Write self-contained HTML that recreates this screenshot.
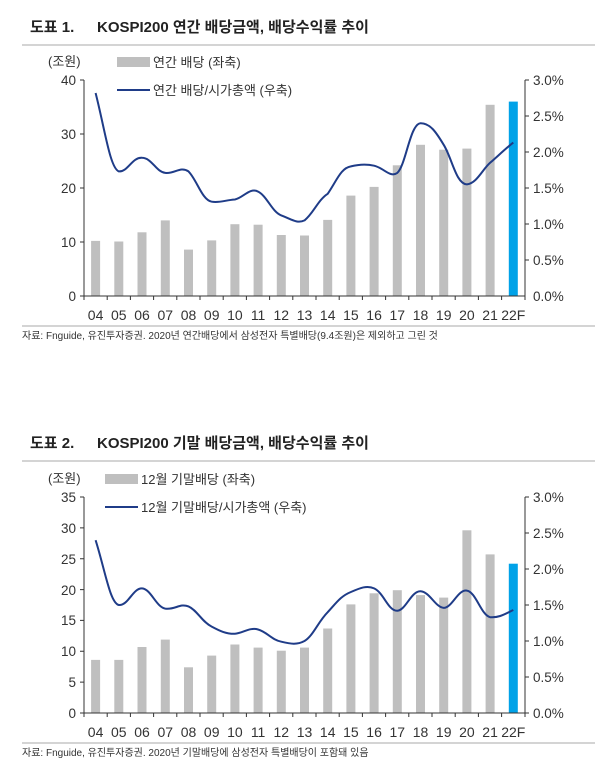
<!DOCTYPE html>
<html><head><meta charset="utf-8"><style>
body{margin:0;background:#fff;}
svg{display:block;font-family:"Liberation Sans","Noto Sans CJK KR",sans-serif;}
</style></head><body>
<svg width="610" height="765" viewBox="0 0 610 765">
<g font-size="14" fill="#222">
<text x="30" y="32" font-weight="bold" font-size="15">도표 1.</text>
<text x="97" y="32" font-weight="bold" font-size="15">KOSPI200 연간 배당금액, 배당수익률 추이</text>
</g>
<line x1="22" y1="45" x2="595" y2="45" stroke="#aaa"/>
<g font-size="13" fill="#333">
<text x="48" y="66">(조원)</text>
<rect x="117" y="57" width="33" height="10" fill="#bfbfbf"/><text x="153" y="67">연간 배당 (좌축)</text>
<line x1="117" y1="90" x2="150" y2="90" stroke="#1f3c88" stroke-width="2"/><text x="153" y="95">연간 배당/시가총액 (우축)</text>
</g>
<g fill="#bfbfbf">
<rect x="91.1" y="240.9" width="9" height="55.1"/><rect x="114.3" y="241.5" width="9" height="54.5"/><rect x="137.5" y="232.3" width="9" height="63.7"/><rect x="160.8" y="220.4" width="9" height="75.6"/><rect x="184" y="249.6" width="9" height="46.4"/><rect x="207.2" y="240.4" width="9" height="55.6"/><rect x="230.4" y="224.2" width="9" height="71.8"/><rect x="253.6" y="224.7" width="9" height="71.3"/><rect x="276.8" y="235" width="9" height="61"/><rect x="300" y="235.5" width="9" height="60.5"/><rect x="323.2" y="219.9" width="9" height="76.1"/><rect x="346.4" y="195.6" width="9" height="100.4"/><rect x="369.6" y="186.9" width="9" height="109.1"/><rect x="392.8" y="165.3" width="9" height="130.7"/><rect x="416" y="144.8" width="9" height="151.2"/><rect x="439.2" y="149.7" width="9" height="146.3"/><rect x="462.4" y="148.6" width="9" height="147.4"/><rect x="485.6" y="104.8" width="9" height="191.2"/>
</g>
<rect x="508.8" y="101.6" width="9" height="194.4" fill="#00a2e8"/>
<path d="M95.6,93 C105,130 110,168 118.8,171.4 C128,172 132,157 142,157.8 C152,158 156,172 165.3,172.9 C175,174 180,166 188.5,171.4 C197,180 202,200 211.7,201.7 C220,203 226,200 234.9,199.5 C243,198 250,187 258.1,191.6 C267,196 272,212 281.3,215.4 C291,219 297,224 304.5,220.4 C313,214 318,200 327.7,193.8 C337,180 341,168 350.9,166.4 C360,164 367,164 374.1,165.7 C384,168 390,178 397.3,172.9 C406,165 410,124 420.5,123.2 C430,123 436,132 443.7,144.8 C452,158 456,184 466.9,184.4 C477,183 482,170 490.1,162.8 C498,156 505,149 513.3,142.6" fill="none" stroke="#1f3c88" stroke-width="2"/>
<g stroke="#333" stroke-width="1">
<line x1="84" y1="80" x2="84" y2="296"/><line x1="525" y1="80" x2="525" y2="296"/><line x1="84" y1="296" x2="525" y2="296"/>
<path d="M80,80H84M80,134H84M80,188H84M80,242H84M80,296H84M525,80H529M525,116H529M525,152H529M525,188H529M525,224H529M525,260H529"/>
<path d="M84,296v4M107.2,296v4M130.4,296v4M153.6,296v4M176.8,296v4M200,296v4M223.2,296v4M246.4,296v4M269.6,296v4M292.8,296v4M316,296v4M339.2,296v4M362.4,296v4M385.6,296v4M408.8,296v4M432,296v4M455.2,296v4M478.4,296v4M501.6,296v4M525,296v4"/>
</g>
<g font-size="13.5" fill="#333" text-anchor="end">
<text x="76" y="85">40</text><text x="76" y="139">30</text><text x="76" y="193">20</text><text x="76" y="247">10</text><text x="76" y="301">0</text>
</g>
<g font-size="13.5" fill="#333">
<text x="533" y="85">3.0%</text><text x="533" y="121">2.5%</text><text x="533" y="157">2.0%</text><text x="533" y="193">1.5%</text><text x="533" y="229">1.0%</text><text x="533" y="265">0.5%</text><text x="533" y="301">0.0%</text>
</g>
<g font-size="14" fill="#333" text-anchor="middle">
<text x="95.6" y="320">04</text><text x="118.8" y="320">05</text><text x="142" y="320">06</text><text x="165.3" y="320">07</text><text x="188.5" y="320">08</text><text x="211.7" y="320">09</text><text x="234.9" y="320">10</text><text x="258.1" y="320">11</text><text x="281.3" y="320">12</text><text x="304.5" y="320">13</text><text x="327.7" y="320">14</text><text x="350.9" y="320">15</text><text x="374.1" y="320">16</text><text x="397.3" y="320">17</text><text x="420.5" y="320">18</text><text x="443.7" y="320">19</text><text x="466.9" y="320">20</text><text x="490.1" y="320">21</text><text x="513.3" y="320">22F</text>
</g>
<line x1="22" y1="326" x2="595" y2="326" stroke="#aaa"/>
<text x="22" y="339" font-size="10" fill="#333">자료: Fnguide, 유진투자증권. 2020년 연간배당에서 삼성전자 특별배당(9.4조원)은 제외하고 그린 것</text>

<g font-size="14" fill="#222">
<text x="30" y="448" font-weight="bold" font-size="15">도표 2.</text>
<text x="97" y="448" font-weight="bold" font-size="15">KOSPI200 기말 배당금액, 배당수익률 추이</text>
</g>
<line x1="22" y1="461" x2="595" y2="461" stroke="#aaa"/>
<g font-size="13" fill="#333">
<text x="48" y="483">(조원)</text>
<rect x="105" y="474" width="33" height="10" fill="#bfbfbf"/><text x="141" y="484">12월 기말배당 (좌축)</text>
<line x1="105" y1="507" x2="138" y2="507" stroke="#1f3c88" stroke-width="2"/><text x="141" y="512">12월 기말배당/시가총액 (우축)</text>
</g>
<g fill="#bfbfbf">
<rect x="91.1" y="659.9" width="9" height="53.1"/><rect x="114.3" y="659.9" width="9" height="53.1"/><rect x="137.5" y="647" width="9" height="66"/><rect x="160.8" y="639.6" width="9" height="73.4"/><rect x="184" y="667.3" width="9" height="45.7"/><rect x="207.2" y="655.6" width="9" height="57.4"/><rect x="230.4" y="644.5" width="9" height="68.5"/><rect x="253.6" y="647.6" width="9" height="65.4"/><rect x="276.8" y="650.7" width="9" height="62.3"/><rect x="300" y="647.6" width="9" height="65.4"/><rect x="323.2" y="628.5" width="9" height="84.5"/><rect x="346.4" y="604.4" width="9" height="108.6"/><rect x="369.6" y="593.3" width="9" height="119.7"/><rect x="392.8" y="590.2" width="9" height="122.8"/><rect x="416" y="595.1" width="9" height="117.9"/><rect x="439.2" y="597.6" width="9" height="115.4"/><rect x="462.4" y="530.3" width="9" height="182.7"/><rect x="485.6" y="554.4" width="9" height="158.6"/>
</g>
<rect x="508.8" y="563.7" width="9" height="149.3" fill="#00a2e8"/>
<path d="M95.6,540.2 C105,570 110,603 118.8,605 C128,606 133,588 142,588.4 C151,589 156,607 165.3,608.6 C175,610 180,603 188.5,606.4 C197,610 202,622 211.7,626.6 C220,631 226,634 234.9,633.8 C243,633 250,627 258.1,629.5 C267,632 272,640 281.3,641.7 C291,644 297,645 304.5,641 C313,636 318,622 327.7,612.2 C337,602 341,596 350.9,592 C360,588 367,585 374.1,588.4 C384,593 388,611 397.3,610.8 C406,610 411,591 420.5,591.3 C430,592 435,607 443.7,607.9 C452,608 458,589 466.9,590.6 C476,592 481,615 490.1,617.2 C499,618 505,614 513.3,610" fill="none" stroke="#1f3c88" stroke-width="2"/>
<g stroke="#333" stroke-width="1">
<line x1="84" y1="497" x2="84" y2="713"/><line x1="525" y1="497" x2="525" y2="713"/><line x1="84" y1="713" x2="525" y2="713"/>
<path d="M80,497H84M80,527.9H84M80,558.7H84M80,589.6H84M80,620.4H84M80,651.3H84M80,682.1H84M80,713H84M525,497H529M525,533H529M525,569H529M525,605H529M525,641H529M525,677H529M525,713H529"/>
<path d="M84,713v4M107.2,713v4M130.4,713v4M153.6,713v4M176.8,713v4M200,713v4M223.2,713v4M246.4,713v4M269.6,713v4M292.8,713v4M316,713v4M339.2,713v4M362.4,713v4M385.6,713v4M408.8,713v4M432,713v4M455.2,713v4M478.4,713v4M501.6,713v4M525,713v4"/>
</g>
<g font-size="13.5" fill="#333" text-anchor="end">
<text x="76" y="502">35</text><text x="76" y="533">30</text><text x="76" y="564">25</text><text x="76" y="595">20</text><text x="76" y="625">15</text><text x="76" y="656">10</text><text x="76" y="687">5</text><text x="76" y="718">0</text>
</g>
<g font-size="13.5" fill="#333">
<text x="533" y="502">3.0%</text><text x="533" y="538">2.5%</text><text x="533" y="574">2.0%</text><text x="533" y="610">1.5%</text><text x="533" y="646">1.0%</text><text x="533" y="682">0.5%</text><text x="533" y="718">0.0%</text>
</g>
<g font-size="14" fill="#333" text-anchor="middle">
<text x="95.6" y="737">04</text><text x="118.8" y="737">05</text><text x="142" y="737">06</text><text x="165.3" y="737">07</text><text x="188.5" y="737">08</text><text x="211.7" y="737">09</text><text x="234.9" y="737">10</text><text x="258.1" y="737">11</text><text x="281.3" y="737">12</text><text x="304.5" y="737">13</text><text x="327.7" y="737">14</text><text x="350.9" y="737">15</text><text x="374.1" y="737">16</text><text x="397.3" y="737">17</text><text x="420.5" y="737">18</text><text x="443.7" y="737">19</text><text x="466.9" y="737">20</text><text x="490.1" y="737">21</text><text x="513.3" y="737">22F</text>
</g>
<line x1="22" y1="743" x2="595" y2="743" stroke="#aaa"/>
<text x="22" y="756" font-size="10" fill="#333">자료: Fnguide, 유진투자증권. 2020년 기말배당에 삼성전자 특별배당이 포함돼 있음</text>
</svg>
</body></html>
